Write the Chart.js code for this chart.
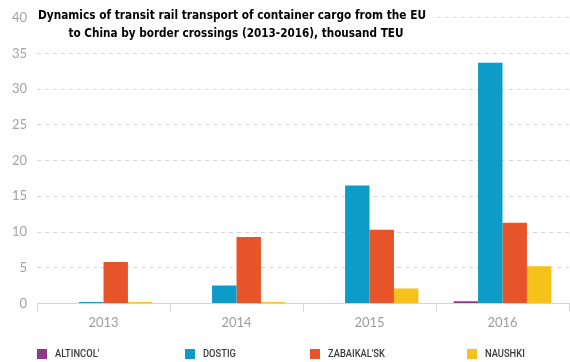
<!DOCTYPE html>
<html>
<head>
<meta charset="utf-8">
<script src="https://cdn.jsdelivr.net/npm/chart.js@4.4.1/dist/chart.umd.min.js"></script>
<style>
  html, body { margin: 0; padding: 0; background: #fff; }
  #wrap { width: 570px; height: 362px; position: relative; }
</style>
</head>
<body>
<div id="wrap"><canvas id="transit"></canvas></div>
<script>
// data, thousand TEU
var years = ["2013", "2014", "2015", "2016"];
var crossings = ["ALTINCOL'", "DOSTIG", "ZABAIKAL'SK", "NAUSHKI"];
var altincol = [0, 0, 0, 0.3];
var dostig = [0.2, 2.5, 16.5, 33.7];
var zabaikalsk = [5.8, 9.3, 10.3, 11.3];
var naushki = [0.2, 0.2, 2.1, 5.2];
var titleLines = [
  "Dynamics of transit rail transport of container cargo from the EU",
  "to China by border crossings (2013-2016), thousand TEU"
];

var colors = ["#8e3a8c", "#0d9cc8", "#e8542a", "#f6c11b"];
var legendX = [37, 185, 310, 467]; // left edge of each legend swatch

// title sits over the top of the plot, on a white patch
var overlayTitle = {
  id: "overlayTitle",
  afterDraw: function (chart) {
    var ctx = chart.ctx;
    ctx.save();
    ctx.fillStyle = "#fff";
    ctx.fillRect(34, 4, 398, 40);
    ctx.fillStyle = "#000";
    ctx.font = "bold 13px 'DejaVu Sans', sans-serif";
    ctx.textAlign = "center";
    ctx.textBaseline = "middle";
    var targets = [{ cx: 232, cy: 16, w: 388 }, { cx: 236, cy: 34, w: 335 }];
    titleLines.forEach(function (line, i) {
      var t = targets[i];
      var sx = t.w / ctx.measureText(line).width;
      ctx.save();
      ctx.translate(t.cx, t.cy);
      ctx.scale(sx, 1);
      ctx.fillText(line, 0, 0);
      ctx.restore();
    });
    ctx.restore();
  }
};

// legend spread along the bottom edge
var bottomLegend = {
  id: "bottomLegend",
  afterDraw: function (chart) {
    var ctx = chart.ctx;
    ctx.save();
    ctx.font = "500 11px Roboto, sans-serif";
    ctx.textBaseline = "middle";
    chart.data.datasets.forEach(function (ds, i) {
      var x = legendX[i];
      ctx.fillStyle = ds.backgroundColor;
      ctx.fillRect(x, 349, 10, 10);
      ctx.fillStyle = "#3a3a3a";
      ctx.save();
      ctx.translate(x + 18, 354.5);
      ctx.scale(0.85, 1);
      ctx.fillText(ds.label, 0, 0);
      ctx.restore();
    });
    ctx.restore();
  }
};

var series = [altincol, dostig, zabaikalsk, naushki];

new Chart(document.getElementById("transit"), {
  type: "bar",
  data: {
    labels: years,
    datasets: crossings.map(function (name, i) {
      return {
        label: name,
        data: series[i],
        backgroundColor: colors[i],
        borderWidth: 0,
        barPercentage: 1,
        categoryPercentage: 0.735
      };
    })
  },
  options: {
    responsive: true,
    maintainAspectRatio: false,
    animation: false,
    layout: { padding: { top: 15, right: 1, bottom: 27, left: 0 } },
    plugins: {
      legend: { display: false },
      title: { display: false },
      tooltip: { enabled: false }
    },
    scales: {
      x: {
        grid: {
          offset: true,
          drawOnChartArea: false,
          color: "#d4d4d4",
          tickLength: 8
        },
        border: { color: "#d4d4d4" },
        ticks: {
          color: "#9d9d9d",
          font: { family: "Lato, 'Open Sans', sans-serif", size: 13 },
          padding: 4
        }
      },
      y: {
        min: 0,
        max: 40,
        afterFit: function (scale) { scale.width = 37; },
        grid: {
          color: "#d6d6d6",
          drawTicks: false
        },
        border: { display: false, dash: [4, 4] },
        ticks: {
          stepSize: 5,
          color: "#a3a3a3",
          font: { family: "Lato, 'Open Sans', sans-serif", size: 13 },
          padding: 10
        }
      }
    }
  },
  plugins: [overlayTitle, bottomLegend]
});
</script>
</body>
</html>
